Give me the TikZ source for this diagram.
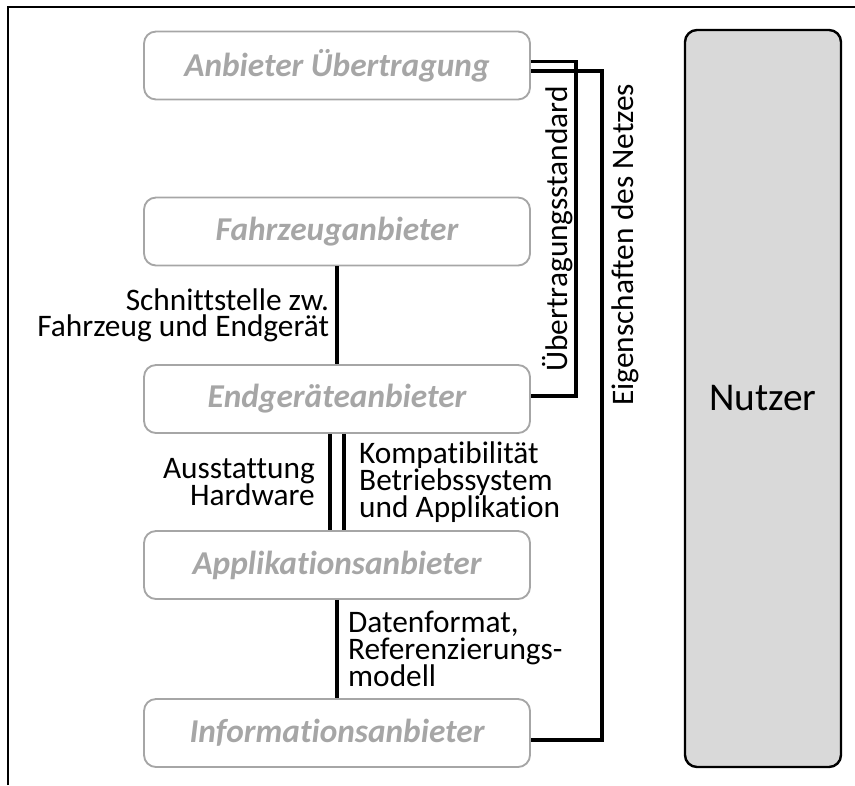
\documentclass[tikz,border=0pt]{standalone}
\usepackage{fontspec}
\setmainfont[Ligatures=NoCommon]{Carlito}
\usetikzlibrary{positioning}
\definecolor{boxgray}{RGB}{166,166,166}
\definecolor{nutzerfill}{RGB}{217,217,217}
\newcommand\lblfont{\fontsize{23.5}{20}\selectfont\lineskiplimit-30pt\relax}
\tikzset{
  anbieter/.style={draw=boxgray, line width=1.4pt, rounded corners=9pt, minimum width=289.5pt, minimum height=51pt, text=boxgray, font=\fontsize{25}{30}\selectfont\bfseries\itshape},
  nutzerbox/.style={draw=black, fill=nutzerfill, line width=1.8pt, rounded corners=9pt, minimum width=117pt, minimum height=552.75pt, font=\fontsize{29.5}{34}\selectfont},
  schnitt/.style={line width=2.8pt},
  lbl/.style={font=\lblfont, inner sep=3pt},
}
\begin{document}
\begin{tikzpicture}[x=0.75pt,y=0.75pt,yscale=-1]
\useasboundingbox (0,0) rectangle (855,785);

%Frame
\draw [line width=2pt] (8,785) -- (8,7) -- (855,7);

%Shape: Anbieter boxes
\node [anbieter] (uebertragung) at (337,65.5) {Anbieter Übertragung};
\node [anbieter] (fahrzeug) at (337,231.5) {Fahrzeuganbieter};
\node [anbieter] (endgeraet) at (337,399) {Endgeräteanbieter};
\node [anbieter] (applikation) at (337,565) {Applikationsanbieter};
\node [anbieter] (information) at (337,733) {Informationsanbieter};

%Shape: Nutzer
\node [nutzerbox] (nutzer) at (763,398.5) {Nutzer};

%Straight Lines
\draw [schnitt] (fahrzeug.south) -- node [lbl, left=1.5pt, align=right] {Schnittstelle zw.\\Fahrzeug und Endgerät} (endgeraet.north);
\draw [schnitt] ([xshift=-5.25pt]endgeraet.south) -- node [lbl, left=7pt, align=right] {Ausstattung\\Hardware} ([xshift=-5.25pt]applikation.north);
\draw [schnitt] ([xshift=5.25pt]endgeraet.south) -- node [lbl, right=7pt, align=left] {Kompatibilität\\Betriebssystem\\und Applikation} ([xshift=5.25pt]applikation.north);
\draw [schnitt] (applikation.south) -- node [lbl, right=4pt, align=left] {Datenformat,\\Referenzierungs-\\modell} (information.north);

%Straight Lines: Übertragungsstandard
\coordinate (ueA) at ([yshift=-3pt]uebertragung.east);
\coordinate (ueE) at ([yshift=-2pt]endgeraet.east);
\coordinate (ueX) at (576,0);
\draw [schnitt] (ueA) -| node [lbl, pos=.75, rotate=90, anchor=south, inner sep=1pt] {Übertragungsstandard} (ueX |- ueE) -- (ueE);

%Straight Lines: Eigenschaften des Netzes
\coordinate (eiA) at ([yshift=4pt]uebertragung.east);
\coordinate (eiE) at ([yshift=5pt]information.east);
\coordinate (eiX) at (602,0);
\draw [schnitt] (eiA) -| node [lbl, pos=.63, rotate=90, anchor=north, inner sep=6pt] {Eigenschaften des Netzes} (eiX |- eiE) -- (eiE);

\end{tikzpicture}
\end{document}
